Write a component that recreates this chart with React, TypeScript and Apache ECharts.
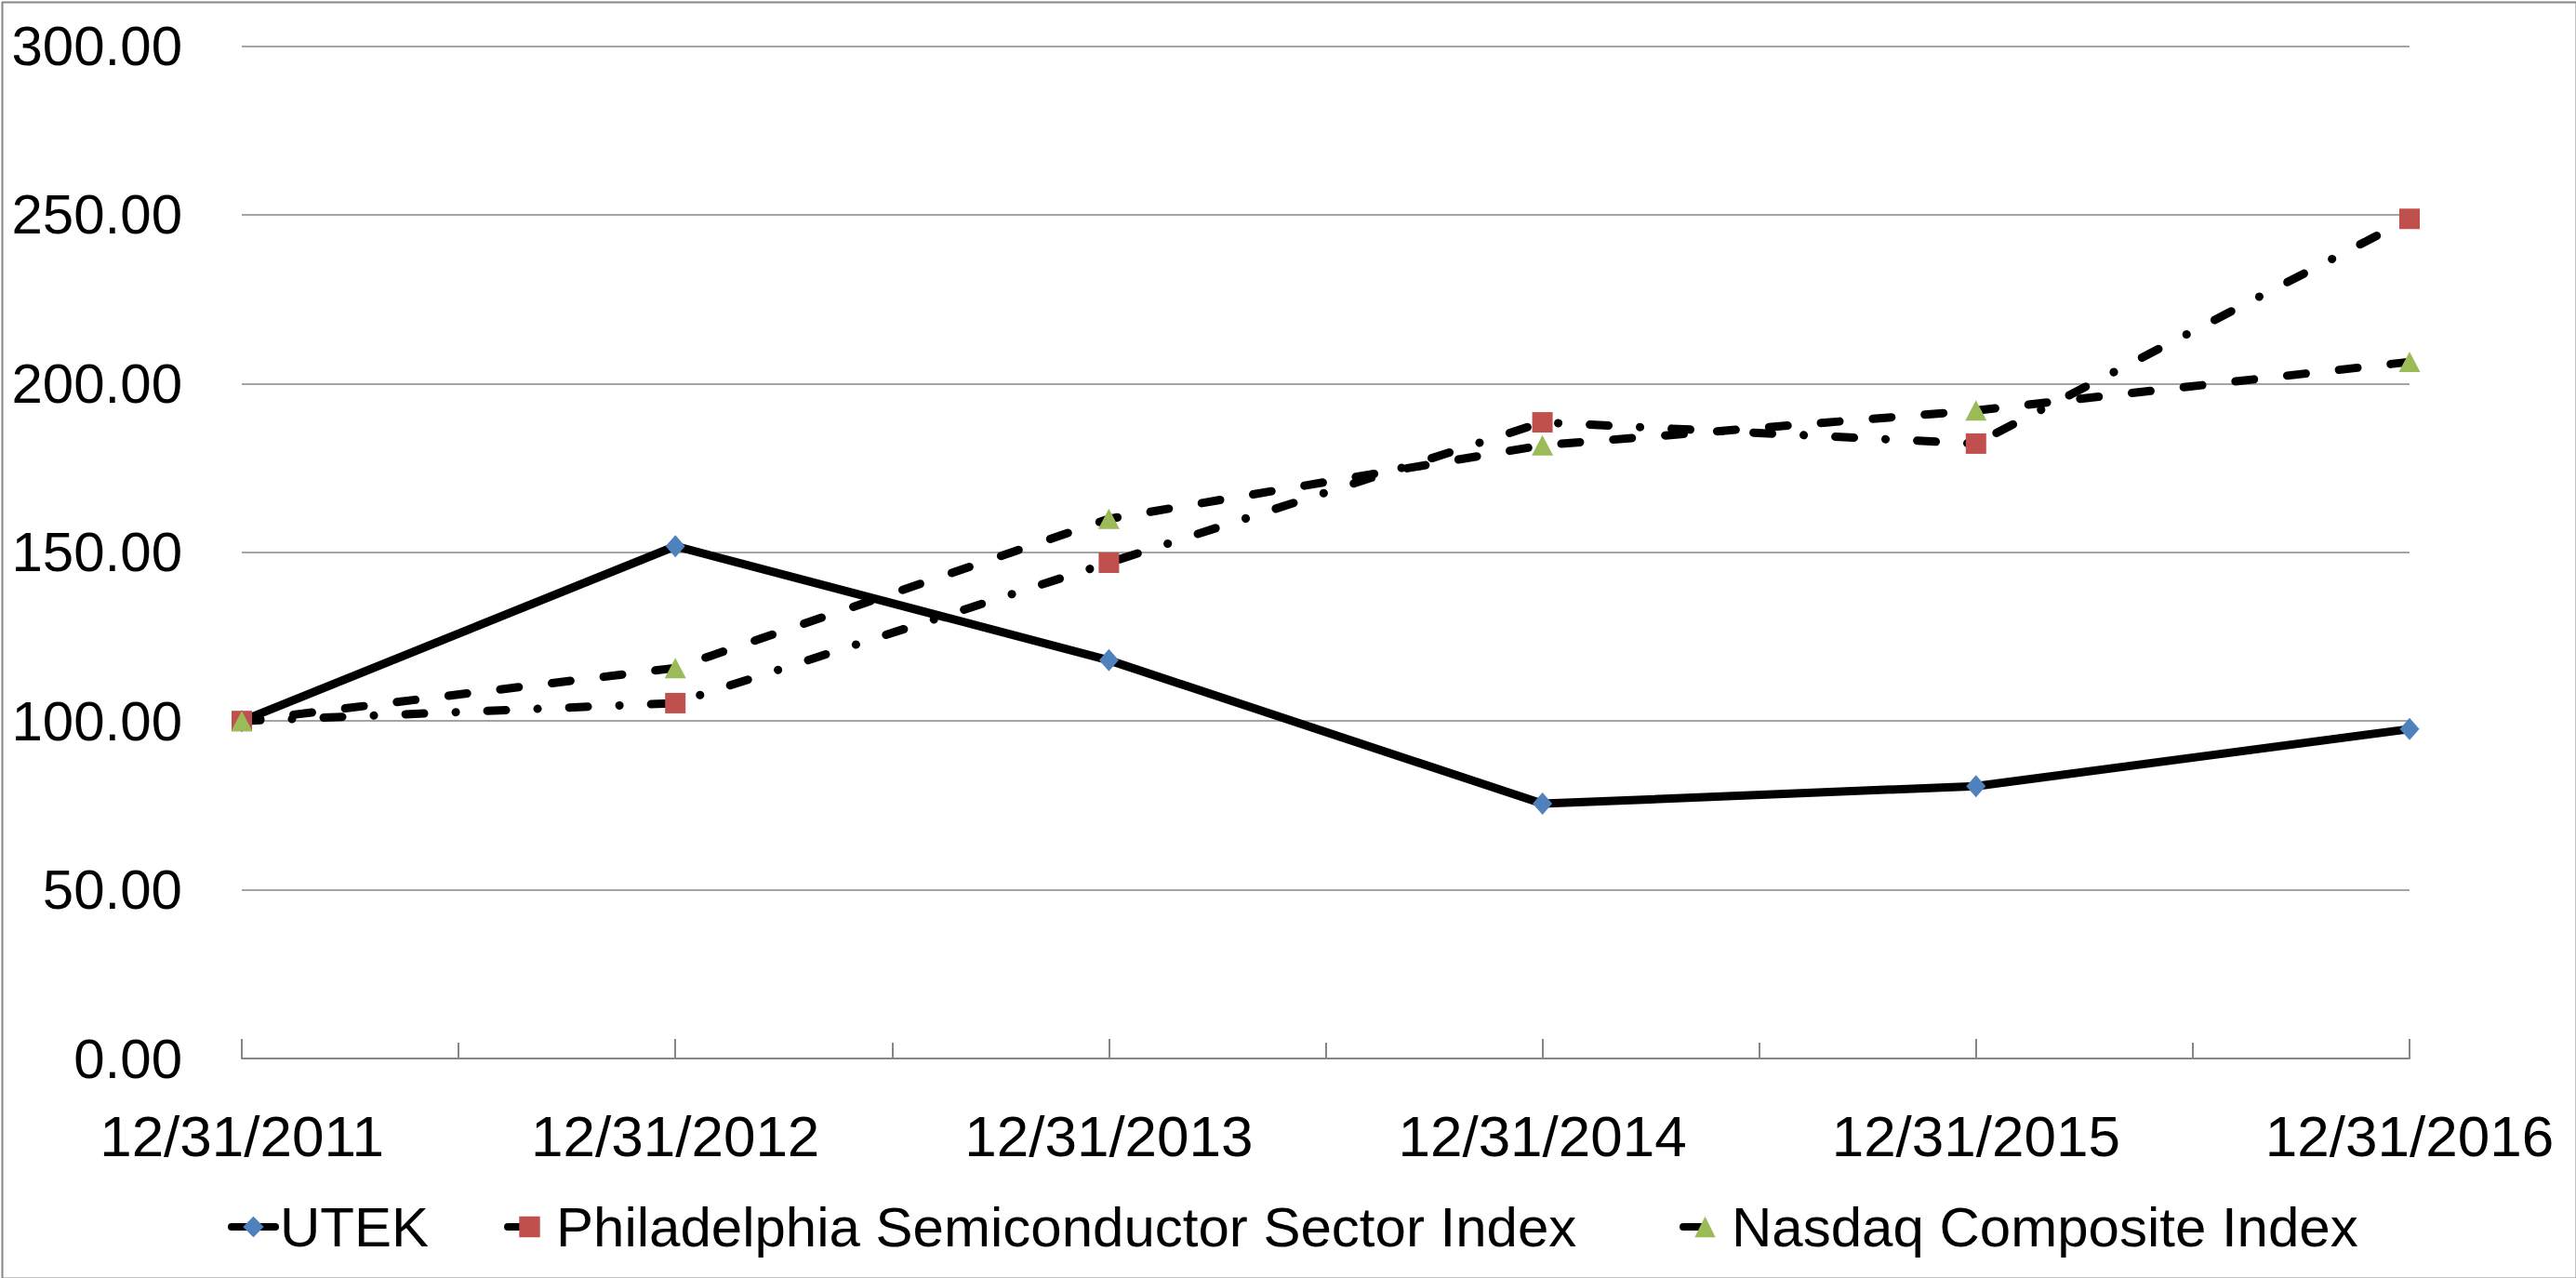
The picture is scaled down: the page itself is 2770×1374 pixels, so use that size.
import React, { useEffect, useRef } from "react";
import * as echarts from "echarts";

const categories = ["12/31/2011", "12/31/2012", "12/31/2013", "12/31/2014", "12/31/2015", "12/31/2016"];
const utek = [100, 151.8, 118.0, 75.5, 80.7, 97.6];
const sox = [100, 105.3, 146.9, 188.5, 182.2, 248.8];
const nasdaq = [100, 115.7, 159.9, 181.7, 192.0, 206.4];
const seriesNames = ["UTEK", "Philadelphia Semiconductor Sector Index", "Nasdaq Composite Index"];

const FONT = "'Liberation Sans', Arial, sans-serif";
const GRAY = "#868686";

export default function App() {
  const ref = useRef<HTMLDivElement>(null);
  useEffect(() => {
    if (!ref.current) return;
    const chart = echarts.init(ref.current, null, { renderer: "svg" });
    const legendBase = {
      orient: "horizontal",
      top: 1289,
      padding: 0,
      itemWidth: 47,
      itemHeight: 28,
      itemGap: 0,
      lineStyle: { width: 8, color: "#000" },
      textStyle: { fontSize: 60, color: "#000", fontFamily: FONT },
      selectedMode: false,
    };
    chart.setOption({
      animation: false,
      backgroundColor: "#fff",
      textStyle: { fontFamily: FONT },
      grid: { left: 260, right: 179, top: 49.5, bottom: 236, containLabel: false },
      legend: [
        { ...legendBase, left: 245, data: [seriesNames[0]] },
        { ...legendBase, left: 542, data: [seriesNames[1]] },
        { ...legendBase, left: 1806, data: [seriesNames[2]] },
      ],
      xAxis: [
        {
          type: "category",
          data: categories,
          boundaryGap: false,
          position: "bottom",
          axisLine: { show: true, lineStyle: { color: GRAY, width: 2 } },
          axisTick: { show: true, inside: true, length: 21, alignWithLabel: true, lineStyle: { color: GRAY, width: 2 } },
          axisLabel: { color: "#000", fontSize: 62, fontFamily: FONT, margin: 52, interval: 0 },
          splitLine: { show: false },
        },
        {
          type: "value",
          min: 0,
          max: 10,
          interval: 1,
          position: "bottom",
          axisLine: { show: false },
          axisTick: { show: true, inside: true, length: 17, lineStyle: { color: GRAY, width: 2 } },
          axisLabel: { show: false },
          splitLine: { show: false },
        },
      ],
      yAxis: {
        type: "value",
        min: 0,
        max: 300,
        interval: 50,
        axisLine: { show: false },
        axisTick: { show: false },
        axisLabel: {
          color: "#000",
          fontSize: 60,
          fontFamily: FONT,
          margin: 64,
          formatter: (v: number) => v.toFixed(2),
        },
        splitLine: { show: true, lineStyle: { color: GRAY, width: 1.5 } },
      },
      series: [
        {
          name: seriesNames[0],
          type: "line",
          xAxisIndex: 0,
          data: utek,
          symbol: "diamond",
          symbolSize: [21, 24],
          showSymbol: true,
          itemStyle: { color: "#4F81BD" },
          lineStyle: { color: "#000", width: 9, type: "solid", cap: "round", join: "round" },
        },
        {
          name: seriesNames[1],
          type: "line",
          xAxisIndex: 0,
          data: sox,
          symbol: "rect",
          symbolSize: 22,
          showSymbol: true,
          itemStyle: { color: "#C0504D" },
          lineStyle: { color: "#000", width: 9, type: [20, 34, 0.1, 34], cap: "round", join: "round" },
        },
        {
          name: seriesNames[2],
          type: "line",
          xAxisIndex: 0,
          data: nasdaq,
          symbol: "triangle",
          symbolSize: [23, 22],
          showSymbol: true,
          itemStyle: { color: "#9BBB59" },
          lineStyle: { color: "#000", width: 9, type: [20, 36], cap: "round", join: "round" },
        },
      ],
      graphic: [
        {
          type: "rect",
          left: 0,
          top: 0,
          shape: { x: 1, y: 1, width: 2768, height: 1372 },
          style: { fill: "none", stroke: GRAY, lineWidth: 2 },
          silent: true,
          z: 100,
        },
      ],
    });
    return () => chart.dispose();
  }, []);
  return (
    <div
      ref={ref}
      style={{ position: "absolute", left: 0, top: 0, width: 2770, height: 1374 }}
    />
  );
}
